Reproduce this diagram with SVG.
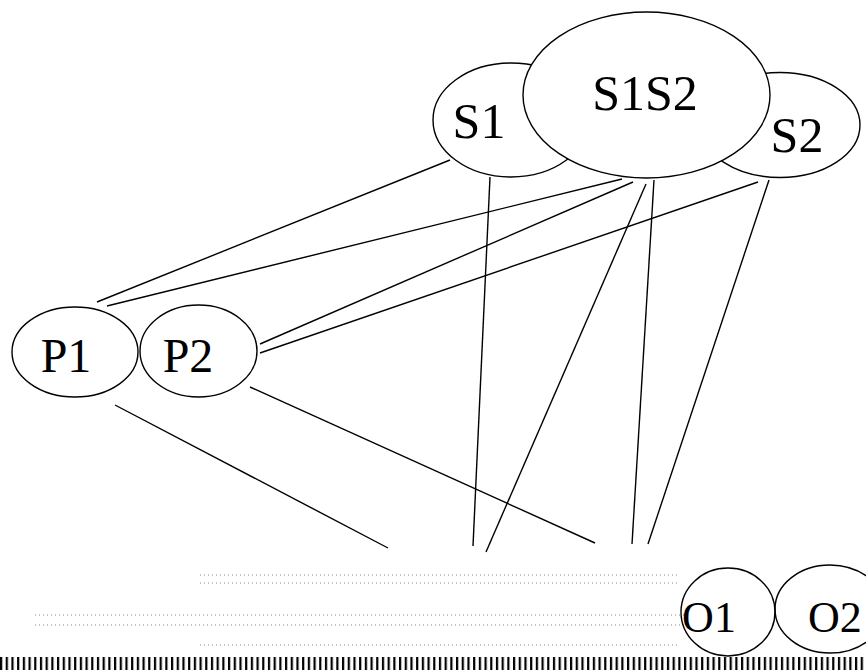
<svg xmlns="http://www.w3.org/2000/svg" width="866" height="672" viewBox="0 0 866 672">
<style>
.n{fill:#fff;stroke:#000;stroke-width:1.4}
.t{font-family:"Liberation Serif","DejaVu Serif",serif;font-size:50px;fill:#000;text-anchor:middle}
.e line{stroke:#000;stroke-width:1.4}
.dot{stroke:#888;stroke-width:1;stroke-dasharray:1 3;fill:none}
</style>
<defs>
<pattern id="stripes" x="0" y="0" width="5.7" height="20" patternUnits="userSpaceOnUse">
<rect x="0" y="0" width="2.2" height="20" fill="#000"/>
</pattern>
</defs>
<rect width="866" height="672" fill="#fff"/>
<g id="connectors" class="e">
<line x1="450" y1="160" x2="97" y2="302"/>
<line x1="622" y1="179" x2="107" y2="306"/>
<line x1="633" y1="182" x2="260" y2="344"/>
<line x1="758" y1="182" x2="260" y2="353"/>
<line x1="490" y1="177" x2="473" y2="546"/>
<line x1="646" y1="184" x2="486" y2="552"/>
<line x1="654" y1="180" x2="632" y2="544"/>
<line x1="769" y1="180" x2="648" y2="544"/>
<line x1="115" y1="405" x2="388" y2="548"/>
<line x1="250" y1="387" x2="595" y2="543"/>
</g>
<g id="S1"><ellipse class="n" cx="511" cy="120" rx="78" ry="57"/><text class="t" font-family="Liberation Serif, serif" x="479" y="138">S1</text></g>
<g id="S2"><ellipse class="n" cx="780" cy="125" rx="80" ry="52.5"/><text class="t" font-family="Liberation Serif, serif" x="797" y="152">S2</text></g>
<g id="S1S2"><ellipse class="n" cx="646.5" cy="95" rx="123.5" ry="83"/><text class="t" font-family="Liberation Serif, serif" x="645" y="110">S1S2</text></g>
<g id="P1"><ellipse class="n" cx="75" cy="352" rx="63" ry="45"/><text class="t" font-family="Liberation Serif, serif" x="66" y="372" style="font-size:48px">P1</text></g>
<g id="P2"><ellipse class="n" cx="198.5" cy="351" rx="58.5" ry="46"/><text class="t" font-family="Liberation Serif, serif" x="188" y="372" style="font-size:48px">P2</text></g>
<g id="texture">
<line class="dot" x1="35" y1="615" x2="690" y2="615"/>
<line class="dot" x1="35" y1="625" x2="690" y2="625"/>
<line class="dot" x1="200" y1="575" x2="680" y2="575"/>
<line class="dot" x1="200" y1="583" x2="680" y2="583"/>
<line class="dot" x1="200" y1="645" x2="680" y2="645"/>
</g>
<g id="O1"><ellipse class="n" cx="728" cy="612" rx="47" ry="44" style="fill:none"/><text class="t" font-family="Liberation Serif, serif" x="709" y="632" style="font-size:44px">O1</text></g>
<g id="O2"><ellipse class="n" cx="830" cy="609" rx="55" ry="44" style="fill:none"/><text class="t" font-family="Liberation Serif, serif" x="808" y="632" style="font-size:44px;text-anchor:start">O2</text></g>
<rect x="0" y="657" width="866" height="13" fill="url(#stripes)"/>
</svg>
